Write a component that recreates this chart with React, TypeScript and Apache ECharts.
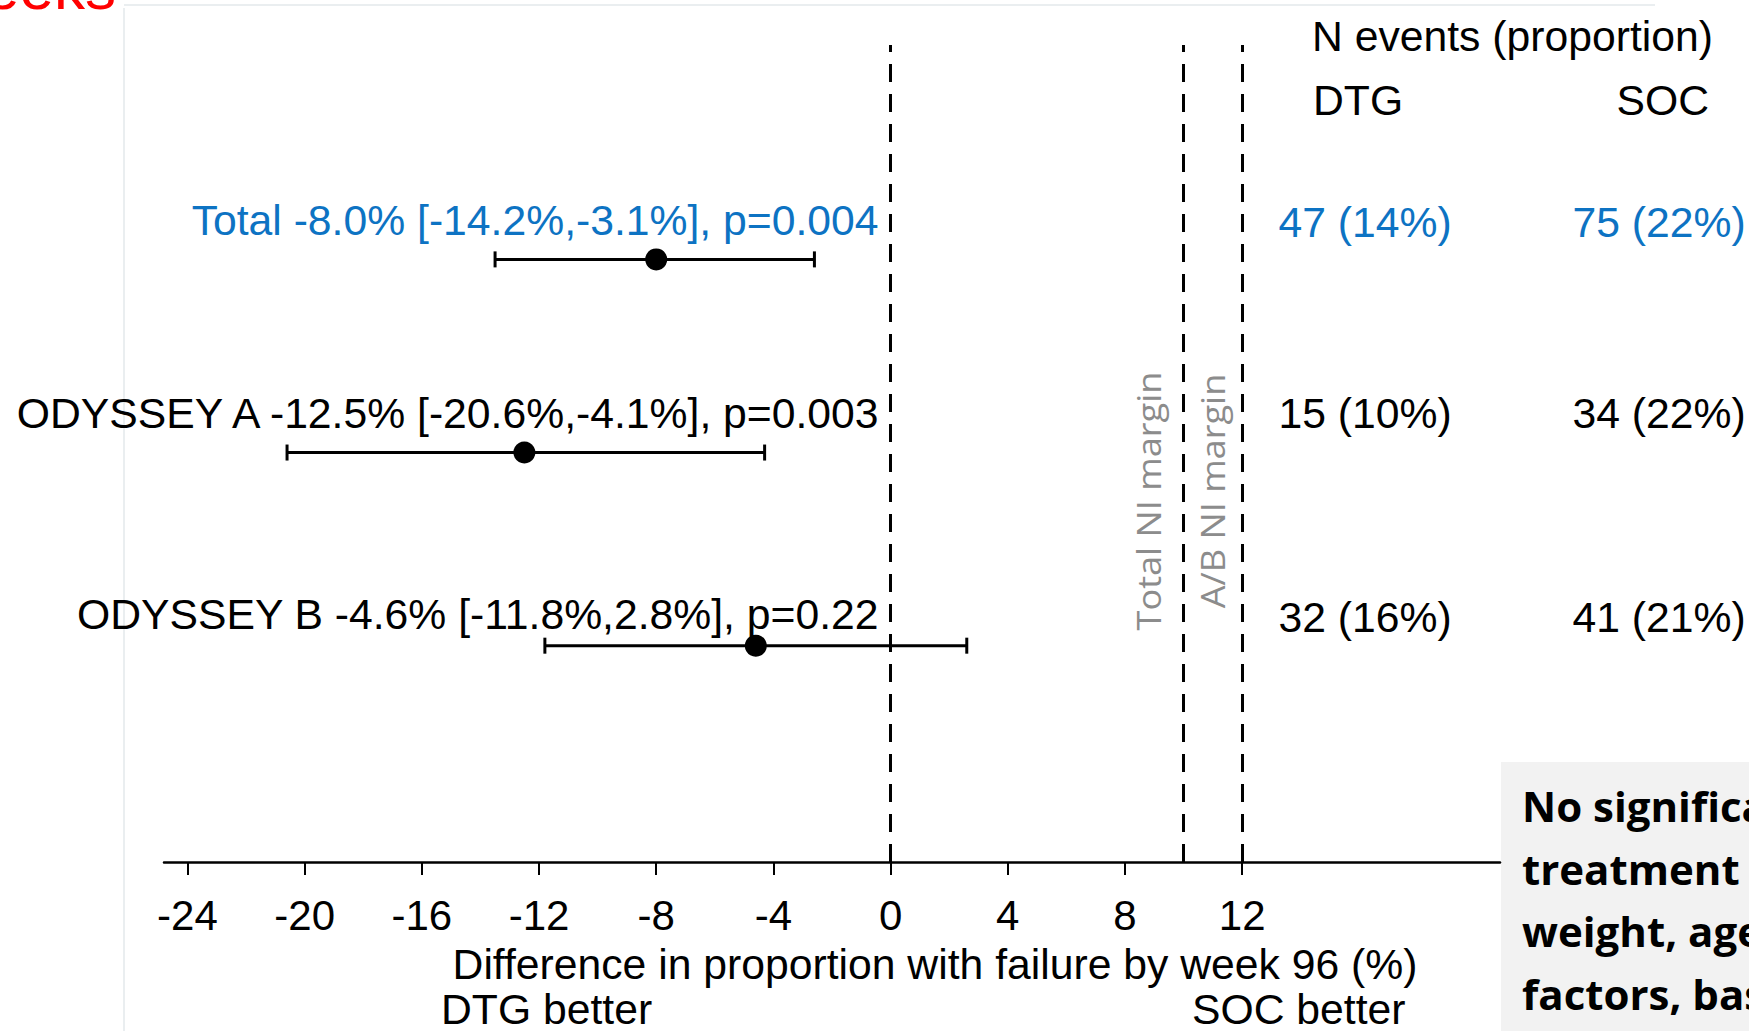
import React, { useEffect, useRef } from "react";
import * as echarts from "echarts";

// ---- data ----
const rowLabels = [
  "Total -8.0% [-14.2%,-3.1%], p=0.004",
  "ODYSSEY A -12.5% [-20.6%,-4.1%], p=0.003",
  "ODYSSEY B -4.6% [-11.8%,2.8%], p=0.22",
];
const rowPos = [3, 2, 1];
const estimates = [-8.0, -12.5, -4.6];
const ciLow = [-13.5, -20.6, -11.8];
const ciHigh = [-2.6, -4.3, 2.6];
const dtgEvents = ["47 (14%)", "15 (10%)", "32 (16%)"];
const socEvents = ["75 (22%)", "34 (22%)", "41 (21%)"];
const refLines = [0, 10, 12];
const tickValues = [-24, -20, -16, -12, -8, -4, 0, 4, 8, 12];
const marginLabels = ["Total NI margin", "A/B NI margin"];
const axisTitle = "Difference in proportion with failure by week 96 (%)";
const sideLabels = ["DTG better", "SOC better"];
const headerTitle = "N events (proportion)";
const columnHeaders = ["DTG", "SOC"];
const noteLines = ["No significant", "treatment effect", "weight, age", "factors, baseline"];

// ---- styles ----
const FONT = "'Liberation Sans', Arial, sans-serif";
const FS = 42.7;
const BLUE = "#0d73c3";
const rowColors = [BLUE, "#000000", "#000000"];
const labelDy = [-39, -40, -32];
const valueDy = [-37, -40, -29];

export default function App() {
  const ref = useRef<HTMLDivElement>(null);
  useEffect(() => {
    if (!ref.current) return;
    const chart = echarts.init(ref.current, undefined, { renderer: "svg" });
    const txt = (text: string, x: number, y: number, align: string, extra: any = {}) => ({
      type: "text",
      x,
      y,
      style: { text, fill: "#000", fontSize: FS, fontFamily: FONT, align, verticalAlign: "middle", ...extra },
    });
    const option: any = {
      animation: false,
      backgroundColor: "#ffffff",
      grid: { left: 164, right: 249, top: 45, bottom: 169, containLabel: false },
      xAxis: {
        type: "value",
        min: -24.8,
        max: 20.8,
        axisLine: { show: true, onZero: false, lineStyle: { color: "#000", width: 2.5 } },
        axisTick: { show: true, customValues: tickValues, length: 13, lineStyle: { color: "#000", width: 2 } },
        axisLabel: { show: true, customValues: tickValues, margin: 32, fontSize: 42, fontFamily: FONT, color: "#000" },
        splitLine: { show: false },
      },
      yAxis: { type: "value", min: -0.12, max: 4.11, show: false },
      series: [
        {
          type: "custom",
          name: "CI",
          data: rowPos.map((y, i) => [ciLow[i], ciHigh[i], y]),
          encode: { x: [0, 1], y: 2 },
          renderItem: (params: any, api: any) => {
            const lo = api.coord([api.value(0), api.value(2)]);
            const hi = api.coord([api.value(1), api.value(2)]);
            const cap = 8;
            const st = { stroke: "#000", lineWidth: 3 };
            return {
              type: "group",
              children: [
                { type: "line", shape: { x1: lo[0], y1: lo[1], x2: hi[0], y2: hi[1] }, style: st },
                { type: "line", shape: { x1: lo[0], y1: lo[1] - cap, x2: lo[0], y2: lo[1] + cap }, style: st },
                { type: "line", shape: { x1: hi[0], y1: hi[1] - cap, x2: hi[0], y2: hi[1] + cap }, style: st },
              ],
            };
          },
        },
        {
          type: "scatter",
          name: "Estimate",
          data: rowPos.map((y, i) => [estimates[i], y]),
          symbolSize: 22,
          itemStyle: { color: "#000", opacity: 1 },
          z: 5,
          markLine: {
            silent: true,
            symbol: ["none", "none"],
            label: { show: false },
            lineStyle: { color: "#000", width: 3, type: [18, 12], opacity: 1 },
            data: refLines.map((v) => ({ xAxis: v })),
          },
        },
        {
          type: "custom",
          name: "Labels",
          data: rowPos.map((y, i) => [0, y, i]),
          encode: { x: 0, y: 1 },
          renderItem: (params: any, api: any) => {
            const i = api.value(2);
            const p = api.coord([0, api.value(1)]);
            const color = rowColors[i];
            const base = { fontSize: FS, fontFamily: FONT, fill: color, verticalAlign: "middle" };
            return {
              type: "group",
              children: [
                { type: "text", x: p[0] - 12, y: p[1] + labelDy[i], style: { ...base, text: rowLabels[i], align: "right" } },
                { type: "text", x: 1365, y: p[1] + valueDy[i], style: { ...base, text: dtgEvents[i], align: "center" } },
                { type: "text", x: 1659, y: p[1] + valueDy[i], style: { ...base, text: socEvents[i], align: "center" } },
              ],
            };
          },
        },
      ],
      graphic: [
        { type: "line", shape: { x1: 124, y1: 8, x2: 124, y2: 1031 }, style: { stroke: "#e3e9eb", lineWidth: 1.5 } },
        { type: "line", shape: { x1: 124, y1: 5, x2: 1655, y2: 5 }, style: { stroke: "#e3e9eb", lineWidth: 1.5 } },
        txt("96 weeks", 116, -12.5, "right", { fill: "#ff0000", fontSize: 62 }),
        txt(axisTitle, 935, 964, "center"),
        txt(sideLabels[0], 441, 1009, "left", { lineHeight: 40 }),
        txt(sideLabels[1], 1192, 1009, "left", { lineHeight: 40 }),
        txt(headerTitle, 1312, 36, "left"),
        txt(columnHeaders[0], 1313, 100, "left"),
        txt(columnHeaders[1], 1709, 100, "right"),
        {
          type: "text", x: 1149, y: 501, rotation: Math.PI / 2, scaleX: 1.13,
          style: { text: marginLabels[0], fill: "#8c8c8c", fontSize: 32, fontFamily: "'Open Sans', sans-serif", align: "center", verticalAlign: "middle" },
        },
        {
          type: "text", x: 1212.6, y: 491, rotation: Math.PI / 2, scaleX: 1.13,
          style: { text: marginLabels[1], fill: "#8c8c8c", fontSize: 32, fontFamily: "'Open Sans', sans-serif", align: "center", verticalAlign: "middle" },
        },
        { type: "rect", shape: { x: 1501, y: 762, width: 260, height: 280 }, style: { fill: "#f2f2f2" } },
        ...noteLines.map((t, k) => ({
          type: "text",
          x: 1522,
          y: 805.7 + k * 62.5,
          scaleX: 1.0,
          style: { text: t, fill: "#000", fontSize: 42, fontWeight: "bold", fontFamily: "'Open Sans', sans-serif", align: "left", verticalAlign: "middle" },
        })),
      ],
    };
    chart.setOption(option);
    return () => chart.dispose();
  }, []);
  return <div ref={ref} style={{ position: "fixed", left: 0, top: 0, width: 1749, height: 1031 }} />;
}
